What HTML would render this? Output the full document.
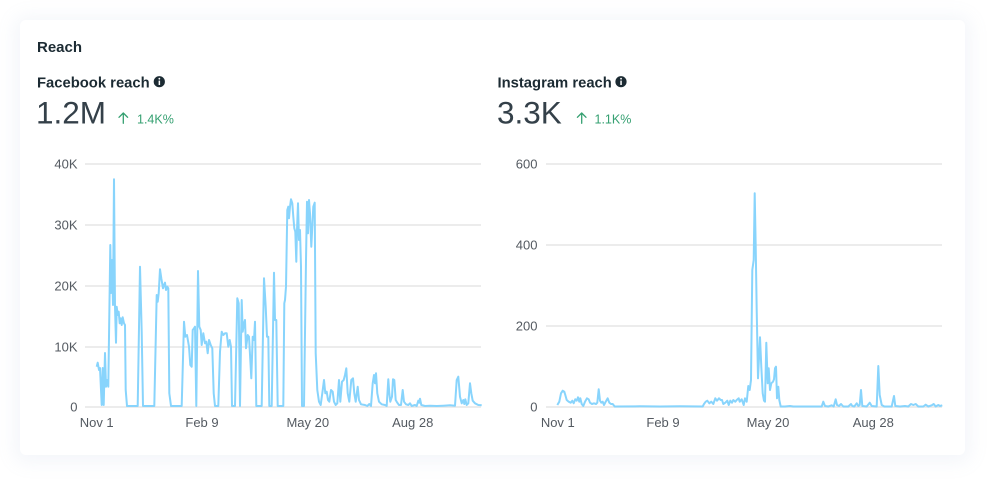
<!DOCTYPE html>
<html><head><meta charset="utf-8">
<style>
html,body{margin:0;padding:0;background:#fff;}
body{width:1006px;height:496px;position:relative;overflow:hidden;}
.card{position:absolute;left:20px;top:20px;width:945px;height:435px;background:#fff;border-radius:6px;box-shadow:0 2px 18px 6px rgba(150,170,210,0.10);}
svg{position:absolute;left:0;top:0;}
text{font-family:"Liberation Sans",Arial,sans-serif;}
</style></head>
<body>
<div class="card"></div>
<svg width="1006" height="496" viewBox="0 0 1006 496" xmlns="http://www.w3.org/2000/svg">
  <!-- headers -->
  <text x="37" y="52" font-size="15" font-weight="bold" fill="#1c2b33">Reach</text>

  <text x="37" y="87.3" font-size="14.8" font-weight="bold" fill="#1c2b33">Facebook reach</text>
  <circle cx="159.3" cy="81.7" r="5.6" fill="#1c2b33"/>
  <rect x="158.6" y="80.6" width="1.5" height="4.4" fill="#fff"/>
  <circle cx="159.35" cy="78.7" r="0.9" fill="#fff"/>
  <text x="36" y="123.5" font-size="31.5" fill="#344049">1.2M</text>
  <g stroke="#35a071" stroke-width="1.3" fill="none" stroke-linecap="round" stroke-linejoin="round">
    <path d="M123.3 113 L123.3 123.3 M119 117.3 L123.3 113 L127.6 117.3"/>
  </g>
  <text x="137" y="123.5" font-size="12.5" fill="#35a071">1.4K%</text>

  <text x="497.5" y="87.3" font-size="14.8" font-weight="bold" fill="#1c2b33">Instagram reach</text>
  <circle cx="621" cy="81.7" r="5.6" fill="#1c2b33"/>
  <rect x="620.3" y="80.6" width="1.5" height="4.4" fill="#fff"/>
  <circle cx="621.05" cy="78.7" r="0.9" fill="#fff"/>
  <text x="497" y="123.5" font-size="31.5" fill="#344049">3.3K</text>
  <g stroke="#35a071" stroke-width="1.3" fill="none" stroke-linecap="round" stroke-linejoin="round">
    <path d="M581.7 113 L581.7 123.3 M577.4 117.3 L581.7 113 L586 117.3"/>
  </g>
  <text x="594.5" y="123.5" font-size="12.5" fill="#35a071">1.1K%</text>

  <!-- FB grid -->
  <g stroke="#e6e6e6" stroke-width="1.5">
    <line x1="85" y1="164" x2="481" y2="164"/>
    <line x1="85" y1="225" x2="481" y2="225"/>
    <line x1="85" y1="286" x2="481" y2="286"/>
    <line x1="85" y1="347" x2="481" y2="347"/>
    <line x1="85" y1="407" x2="481" y2="407"/>
  </g>
  <g font-size="13" fill="#545a61" text-anchor="end">
    <text x="77.5" y="168.7">40K</text>
    <text x="77.5" y="229.7">30K</text>
    <text x="77.5" y="290.7">20K</text>
    <text x="77.5" y="351.7">10K</text>
    <text x="77.5" y="411.7">0</text>
  </g>
  <g font-size="13" fill="#545a61" text-anchor="middle">
    <text x="96.7" y="427">Nov 1</text>
    <text x="202" y="427">Feb 9</text>
    <text x="307.8" y="427">May 20</text>
    <text x="412.7" y="427">Aug 28</text>
  </g>

  <!-- IG grid -->
  <g stroke="#e6e6e6" stroke-width="1.5">
    <line x1="546" y1="164" x2="942" y2="164"/>
    <line x1="546" y1="245" x2="942" y2="245"/>
    <line x1="546" y1="326" x2="942" y2="326"/>
    <line x1="546" y1="407" x2="942" y2="407"/>
  </g>
  <g font-size="13" fill="#545a61" text-anchor="end">
    <text x="537.5" y="168.7">600</text>
    <text x="537.5" y="249.7">400</text>
    <text x="537.5" y="330.7">200</text>
    <text x="537.5" y="411.7">0</text>
  </g>
  <g font-size="13" fill="#545a61" text-anchor="middle">
    <text x="557.8" y="427">Nov 1</text>
    <text x="663" y="427">Feb 9</text>
    <text x="768" y="427">May 20</text>
    <text x="873.3" y="427">Aug 28</text>
  </g>

  <!-- FB series -->
  <polyline fill="none" stroke="#88d4fc" stroke-width="2" stroke-linejoin="round" points="
96.7,366.7 97.7,362.7 99,370 100,368 101.7,405 102.7,368 103.7,405 105,353 106,386.7 107,380 108.3,386.7 110.3,245 111,293 112,260 113,305 114,179.3 115,306.7 116,342.7 116.7,306.7 117.7,315 118.7,311.7 119.7,323.3 120.7,318.3 121.7,325 122.7,317.3 124,323.3 125,325 125.7,390 127,406 137.7,406 140,266.7 141.7,331.7 143,406 154.3,406 156.7,295 157.7,301.7 158.7,293.3 160,269.3 161.3,278.3 163,288.3 164,285 165,282.7 166,290 167.3,286.7 168.3,288.3 169.3,393.3 171,406 181.7,406 184,321.7 185.3,336.7 187,335 189,346.7 190.3,365 191.7,366.7 192.7,330 194,328.3 195,326.7 196.3,406 198,271 199.3,326.7 200.7,330 201.7,345 203.3,333.3 205,343.3 206.3,341.7 207.7,353.3 209,340 210.7,345 212.3,348.3 213.7,393.3 215,406 218.3,406 220,351.7 221.7,331.7 223.3,335 225,333.3 226.7,333.3 228.3,346.7 229.7,340 231,346.7 232,406 235,406 237.3,298.3 238.7,303.3 240,406 241.7,300 242.7,331.7 244,323.3 245,320 246,348.3 247.7,335 249,336.7 250.3,360 251.3,378.3 252.7,336.7 254,340 255,321.7 256.3,406 261.7,406 264,278.3 265.7,306.7 267,336.7 268.3,336.7 269.3,406 271.7,406 274,272.7 275,320 276.3,320 277.7,406 283.3,406 284.3,303.3 285,300 286,286.7 287.3,210 288.3,206.7 289,218.3 290,206.7 291,199.3 292.3,203.3 293.3,216.7 294.3,228.3 295.3,231.7 296.3,261.7 297,230 298,203.3 299,240 300,230 301,266.7 302,406 304,406 306,260 307,201.7 308,233.3 309,200 310,213.3 311.3,246.7 312.3,226.7 313.3,206.7 314.7,202.7 315.7,353.3 317.3,390 319,401.7 320.7,405 322.3,393.3 324,380 325.3,393.3 326.7,391.7 328,400 329.3,401.7 331,390 332.7,391.7 334,401.7 335.7,405 337.3,403.3 339,380 340.3,401.7 342,381.7 343.7,380 345,375 346.3,368.3 347.7,393.3 349.3,401.7 351.3,380 353,378.3 354.3,393.3 355.7,401.7 357.7,386.7 359,400 361,404.3 365,405 367.3,406 369.3,404 371,406 372.7,383.3 374,375 375,383.3 376,373.3 377.3,393.3 379,401.7 381.7,404.3 385,405 386.7,406 388.3,379.3 389.3,393.3 390.3,401.7 392,396.7 393,379.3 394.3,380 395.7,400 397.3,402.7 399,405 401,405 402.7,390 404,401.7 406,404.3 408.3,405 410,403.3 411.7,406 415,405 416.7,406 418.3,400.7 419.3,402.7 420,398.7 421.3,405 425,406 430,405.7 436.7,406 443.3,405.7 450,405.3 455,405.7 456.7,380 458.3,376.7 460,396.7 461.7,403.3 463.3,400 464.3,404 465.3,399.3 466.7,405 468.3,403.3 470,383.3 471.3,393.3 472.7,400.7 475,403.3 478.3,405 481.7,405.3"/>

  <!-- IG series -->
  <polyline fill="none" stroke="#88d4fc" stroke-width="2" stroke-linejoin="round" points="
557.3,405 559.3,401.7 561,393.3 562.7,390.7 564.3,391.7 565.3,395 566.7,400 568.7,401.7 570.7,402.7 572.3,400.7 573.7,403.3 575.3,399.3 576.7,400.7 578,397.3 579.3,401.7 580.3,398.3 581.7,404 583.3,406 585,401.7 587,398.3 588.7,399.3 590,402.7 592,404 594,403.3 596,404 597.3,402.7 598.7,389.3 600,400.7 601.3,402.7 602.7,401.7 604,405 605.7,401.7 607.7,398.3 609.3,402.7 611,404 612.7,404 614.7,406.5 640,406.3 660,406.5 680,406.3 702.7,406.5 704,404 705.7,401.7 707.3,400.7 709.3,403.3 711.3,401.7 713.3,404 715.3,398.3 717,400.7 719,398.3 720.7,400 722,400 723.3,404 725.3,402.7 727.3,400.7 728.7,405 730.3,400.7 732,402.7 733.3,400 735.3,401.7 736.7,400 738.7,398.3 739.7,401.7 741.7,399.3 743.7,405 745,398.3 746.7,401.7 748.3,386 749.7,390 751,380 752.3,270 753.7,260 754.7,193.3 755.7,246.7 756.7,310 758,378.3 760,337.3 761.3,366.7 762.7,393.3 764,400.7 765,401.7 766.3,342.7 767.7,383.3 768.7,368.3 770,390 771.3,383.3 773,381.7 774,379.3 775,368.3 776,366.7 777,398.3 778.3,386.7 779.3,400 780.7,406.5 785,406.5 790,406 793.3,406.5 821.7,406.5 823.3,401.7 825,406 828.3,406.5 831.7,405.3 833.7,406.5 835.7,399.3 837,405 839,406 841,404 843.3,406.5 848.3,406.5 851,404 852.3,406 854.3,406.5 856.7,403.3 858.3,406 859.7,405 861,390 862.3,406 866.7,406.5 869.7,402.7 871.7,406 876.7,406.5 878.3,366 879.7,395 881.7,405 884.3,406.5 891.7,406.5 894,396 895.3,406 900,406.5 905,406 908.3,406.5 911,404 913.3,405 915.7,404 918.3,406.5 923.3,406.5 925.7,404.7 928.3,406.5 931.7,405.3 933.7,404 935.7,406.5 938.3,405 940,406 942.3,405.3"/>
</svg>
</body></html>
